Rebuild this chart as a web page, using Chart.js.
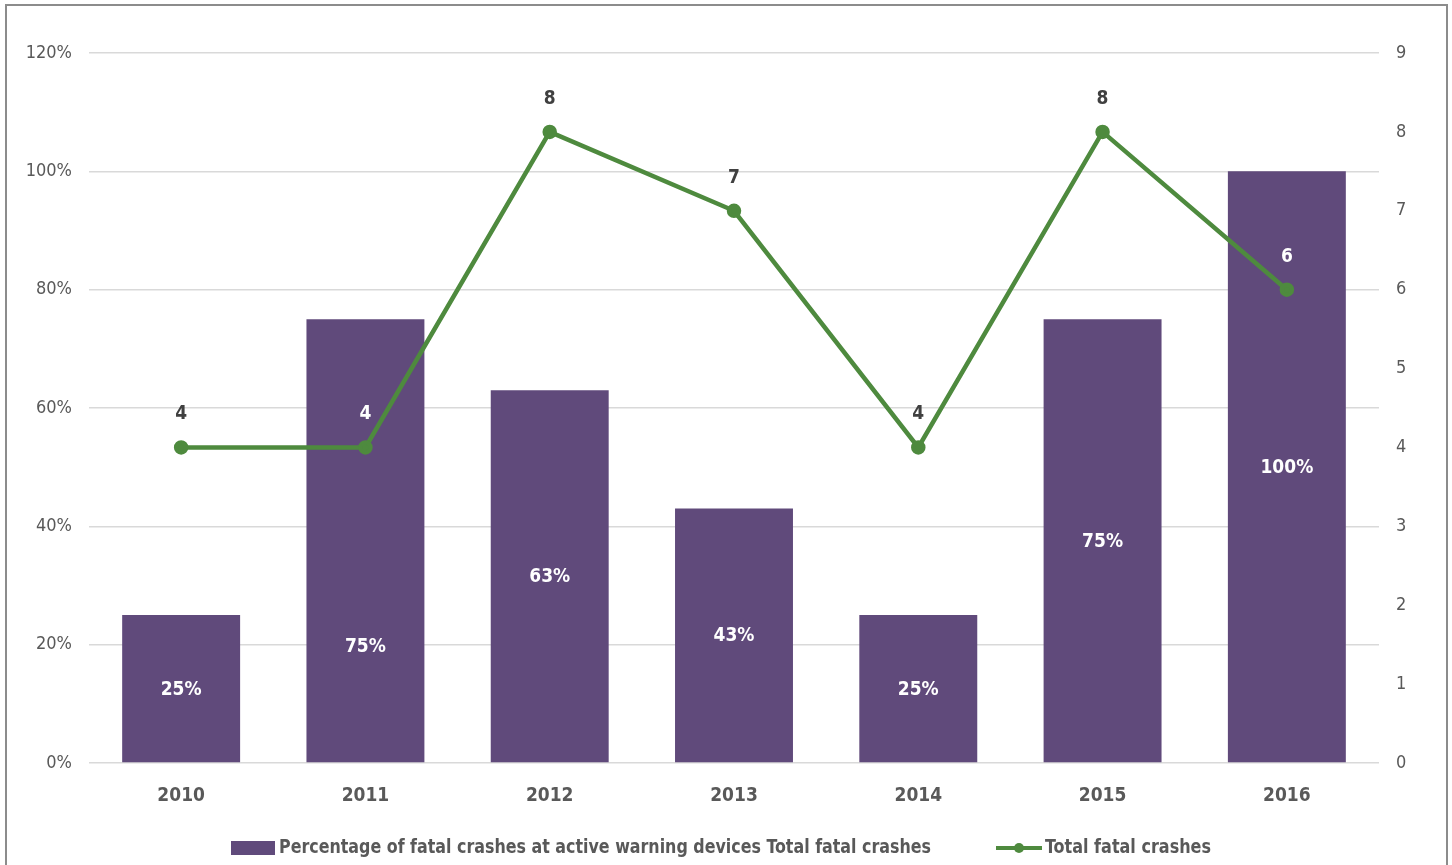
<!DOCTYPE html>
<html>
<head>
<meta charset="utf-8">
<script src="https://cdn.jsdelivr.net/npm/chart.js@4.4.0/dist/chart.umd.min.js"></script>
<style>
    body { margin: 0; background: #ffffff; }
    #frame {
        position: absolute; left: 5px; top: 4px;
        width: 1439px; height: 880px;
        border: 2px solid #8c8c8c; border-bottom: none;
    }
    #chartBox { position: absolute; left: 0; top: 0; width: 1439px; height: 859px; }
</style>
</head>
<body>
<div id="frame"><div id="chartBox"><canvas id="chart"></canvas></div></div>
<script>
    // Data
    const years = ['2010', '2011', '2012', '2013', '2014', '2015', '2016'];
    const pctActiveWarning = [25, 75, 63, 43, 25, 75, 100];
    const totalFatalCrashes = [4, 4, 8, 7, 4, 8, 6];
    const pctTicks = [0, 20, 40, 60, 80, 100, 120];
    const countTicks = [0, 1, 2, 3, 4, 5, 6, 7, 8, 9];

    const barLabel = 'Percentage of fatal crashes at active warning devices Total fatal crashes';
    const lineLabel = 'Total fatal crashes';

    const FONT = "'Liberation Sans Narrow', 'DejaVu Sans Condensed', 'Open Sans', sans-serif";
    const PURPLE = '#604a7b';
    const GREEN = '#4e8a3e';
    const GREY = '#595959';

    // Labels on bars, on line points and the legend at the bottom
    const labelPlugin = {
        id: 'labelPlugin',
        afterDatasetsDraw(chart) {
            const ctx = chart.ctx;
            const barMeta = chart.getDatasetMeta(0);
            const lineMeta = chart.getDatasetMeta(1);
            ctx.save();
            ctx.textAlign = 'center';
            ctx.textBaseline = 'middle';
            ctx.font = 'bold 19px ' + FONT;

            barMeta.data.forEach((bar, i) => {
                let y = (bar.y + bar.base) / 2;
                // 2011 label was moved down out of the way of the line label
                if (i === 1) y += 105;
                ctx.fillStyle = '#ffffff';
                ctx.fillText(pctActiveWarning[i] + '%', bar.x, y + 1);
            });

            lineMeta.data.forEach((pt, i) => {
                const y = pt.y - 33;
                const bar = barMeta.data[i];
                const inside = y > bar.y;
                ctx.fillStyle = inside ? '#ffffff' : '#404040';
                ctx.fillText(String(totalFatalCrashes[i]), pt.x, y);
            });
            ctx.restore();
        },
        afterDraw(chart) {
            const ctx = chart.ctx;
            const y = 842;
            ctx.save();
            ctx.font = 'bold 20px ' + FONT;
            ctx.textBaseline = 'middle';
            ctx.textAlign = 'left';

            ctx.fillStyle = PURPLE;
            ctx.fillRect(224, y - 7, 44, 14);
            ctx.fillStyle = GREY;
            ctx.fillText(barLabel, 272, y, 652);

            ctx.strokeStyle = GREEN;
            ctx.lineWidth = 4;
            ctx.beginPath();
            ctx.moveTo(989, y);
            ctx.lineTo(1035, y);
            ctx.stroke();
            ctx.fillStyle = GREEN;
            ctx.beginPath();
            ctx.arc(1012, y, 5, 0, Math.PI * 2);
            ctx.fill();
            ctx.fillStyle = GREY;
            ctx.fillText(lineLabel, 1038, y, 166);
            ctx.restore();
        }
    };

    const ctx = document.getElementById('chart').getContext('2d');
    new Chart(ctx, {
        type: 'bar',
        data: {
            labels: years,
            datasets: [{
                label: barLabel,
                data: pctActiveWarning,
                yAxisID: 'y',
                backgroundColor: PURPLE,
                categoryPercentage: 1,
                barPercentage: 0.64,
                order: 1
            }, {
                type: 'line',
                label: lineLabel,
                data: totalFatalCrashes,
                yAxisID: 'y1',
                borderColor: GREEN,
                backgroundColor: GREEN,
                borderWidth: 4.5,
                pointRadius: 5,
                pointHoverRadius: 5,
                tension: 0,
                order: 0
            }]
        },
        options: {
            responsive: true,
            maintainAspectRatio: false,
            animation: false,
            layout: { padding: { top: 47, left: 0, right: 0, bottom: 0 } },
            plugins: {
                legend: { display: false },
                tooltip: { enabled: false }
            },
            scales: {
                x: {
                    grid: { display: false, drawTicks: false },
                    border: { display: false },
                    ticks: {
                        color: GREY,
                        font: { family: FONT, size: 19, weight: 'bold' },
                        padding: 22
                    },
                    afterFit(scale) { scale.height = 102; }
                },
                y: {
                    position: 'left',
                    min: 0,
                    max: 120,
                    afterBuildTicks(scale) { scale.ticks = pctTicks.map(v => ({ value: v })); },
                    grid: { color: '#d9d9d9', lineWidth: 1.5, drawTicks: false },
                    border: { display: false },
                    ticks: {
                        color: GREY,
                        font: { family: FONT, size: 18 },
                        padding: 17,
                        callback: v => v + '%'
                    },
                    afterFit(scale) { scale.width = 82; }
                },
                y1: {
                    position: 'right',
                    min: 0,
                    max: 9,
                    afterBuildTicks(scale) { scale.ticks = countTicks.map(v => ({ value: v })); },
                    grid: { display: false, drawTicks: false },
                    border: { display: false },
                    ticks: {
                        color: GREY,
                        font: { family: FONT, size: 18 },
                        padding: 17
                    },
                    afterFit(scale) { scale.width = 67; }
                }
            }
        },
        plugins: [labelPlugin]
    });
</script>
</body>
</html>
